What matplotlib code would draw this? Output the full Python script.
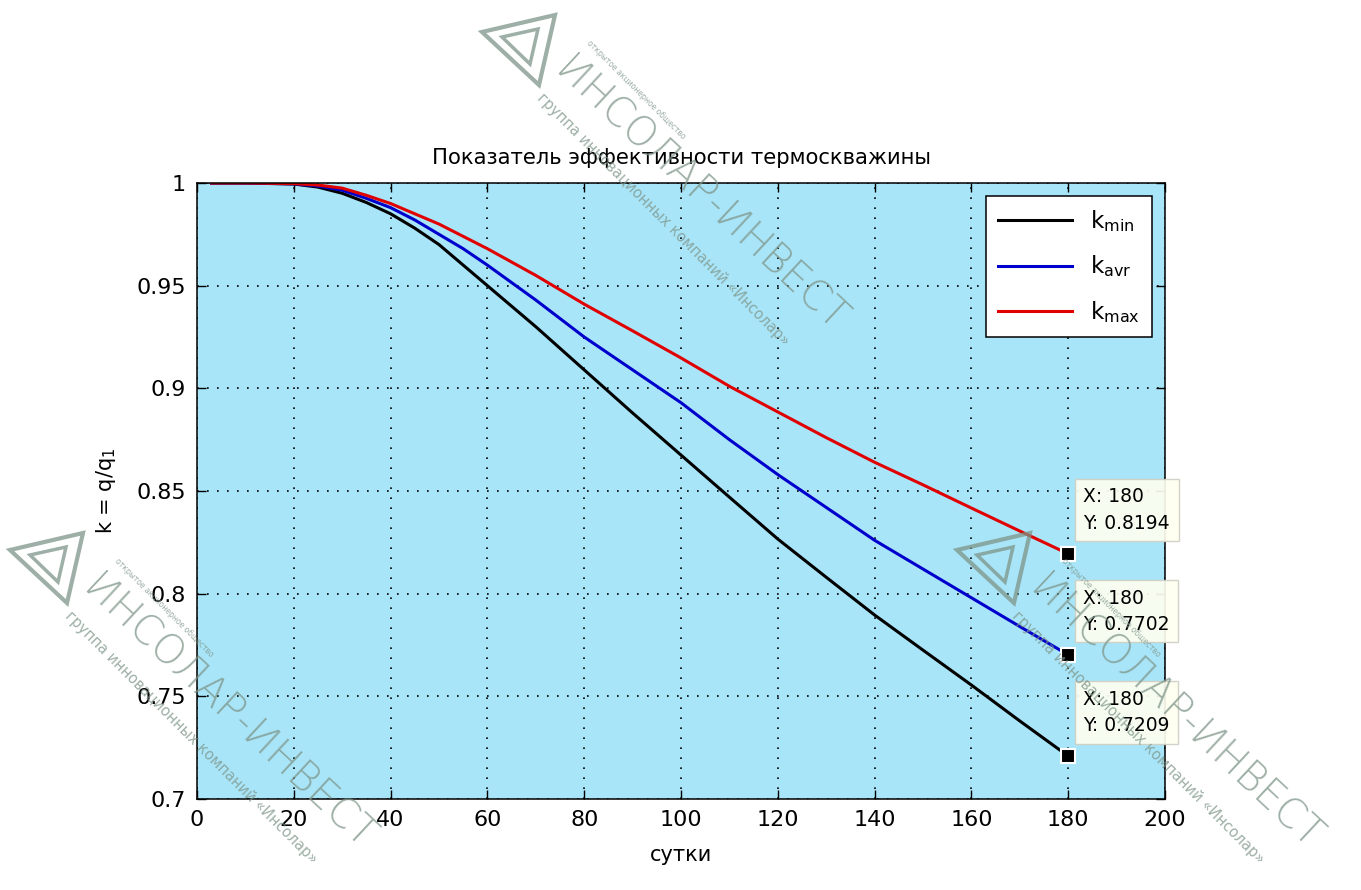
import numpy as np
import matplotlib.pyplot as plt
from matplotlib.patches import Polygon

plt.rcParams['font.family'] = ['DejaVu Sans']
plt.rcParams['mathtext.default'] = 'regular'

# thermal well efficiency over the operating season
days = [3, 10, 20, 25, 30, 35, 40, 45, 50, 55, 60, 70, 80, 90, 100,
        110, 120, 130, 140, 150, 160, 170, 180]
k_min = [1.0, 1.0, 0.9995, 0.998, 0.995, 0.9905, 0.985, 0.978, 0.970, 0.960,
         0.950, 0.930, 0.909, 0.888, 0.8675, 0.847, 0.8266, 0.808, 0.7896,
         0.7725, 0.7555, 0.738, 0.7209]
k_avr = [1.0, 1.0, 0.9996, 0.9985, 0.9965, 0.9925, 0.988, 0.982, 0.975, 0.968,
         0.960, 0.943, 0.925, 0.909, 0.893, 0.875, 0.858, 0.842, 0.826,
         0.812, 0.798, 0.784, 0.7702]
k_max = [1.0, 1.0, 0.9997, 0.999, 0.9975, 0.994, 0.990, 0.985, 0.980, 0.974,
         0.968, 0.955, 0.941, 0.928, 0.9148, 0.901, 0.8885, 0.876, 0.864,
         0.853, 0.8417, 0.8305, 0.8194]

series_labels = ['k$_{min}$', 'k$_{avr}$', 'k$_{max}$']
series_colors = ['black', '#0000cc', '#e00000']
x_ticks = [0, 20, 40, 60, 80, 100, 120, 140, 160, 180, 200]
y_ticks = [0.7, 0.75, 0.8, 0.85, 0.9, 0.95, 1.0]
tip_day = 180

W, H = 1361, 890
fig = plt.figure(figsize=(W / 100, H / 100), dpi=100)
ax = fig.add_axes([197 / W, 1 - 799 / H, 968 / W, 616 / H])
ax.set_facecolor('#a9e5f8')

for vals, lab, col in zip([k_min, k_avr, k_max], series_labels, series_colors):
    ax.plot(days, vals, color=col, lw=2.2, label=lab)

ax.set_xlim(0, 200)
ax.set_ylim(0.7, 1.0)
ax.set_xticks(x_ticks)
ax.set_yticks(y_ticks)
ax.set_xticklabels([str(t) for t in x_ticks])
ax.set_yticklabels(['0.7', '0.75', '0.8', '0.85', '0.9', '0.95', '1'])
ax.tick_params(direction='in', length=6.5, width=1, top=True, right=True,
               labelsize=16, pad=8)
ax.grid(True, color='black', linestyle=(0, (1, 5)), linewidth=1.2)
for sp in ax.spines.values():
    sp.set_linewidth(1.1)

ax.set_title('Показатель эффективности термоскважины', fontsize=15.2, pad=14)
ax.set_xlabel('сутки', fontsize=15, labelpad=11)
ax.set_ylabel('k = q/q$_1$', fontsize=15, labelpad=13)

leg = ax.legend(loc='upper right', fontsize=16.5, handlelength=3.2,
                borderaxespad=0.55, labelspacing=0.85, fancybox=False,
                framealpha=1, edgecolor='black', borderpad=0.55)
leg.get_frame().set_linewidth(1.1)

# data tips at the end of the season
for vals in [k_max, k_avr, k_min]:
    yv = vals[days.index(tip_day)]
    ax.plot([tip_day], [yv], 's', color='black', ms=10.5, mec='white',
            mew=1.5, zorder=5, clip_on=False)
    ax.annotate(f'X: {tip_day}\nY: {yv:.4f}', xy=(tip_day, yv),
                xytext=(11, 15), textcoords='offset points',
                ha='left', va='bottom', fontsize=13.5, linespacing=1.5,
                bbox=dict(boxstyle='square,pad=0.45', fc='#fffff0',
                          ec='#cfcfc4', lw=1, alpha=0.92),
                annotation_clip=False, zorder=6)


def px(x, y):
    return x / W, 1 - y / H


def watermark(x0, y0):
    # company logo with a rotated caption
    wm = '#7d9488'
    tri = [px(x0 - 8, y0 + 20), px(x0 + 65, y0 + 3), px(x0 + 49, y0 + 73)]
    fig.add_artist(Polygon(tri, closed=True, fill=False, ec=wm, lw=3,
                           alpha=0.75, transform=fig.transFigure, zorder=20))
    inner = [px(x0 + 12, y0 + 25), px(x0 + 48, y0 + 17), px(x0 + 40, y0 + 52)]
    fig.add_artist(Polygon(inner, closed=True, fill=False, ec=wm, lw=2.5,
                           alpha=0.75, transform=fig.transFigure, zorder=20))
    fig.text(*px(x0 + 62, y0 + 62), 'ИНСОЛАР-ИНВЕСТ', fontsize=29,
             color=wm, alpha=0.75, rotation=-43, rotation_mode='anchor',
             ha='left', va='baseline', fontweight='light', zorder=20,
             family=['DejaVu Sans'])
    fig.text(*px(x0 + 55, y0 + 78), 'группа инновационных компаний «Инсолар»',
             fontsize=10.5, color=wm, alpha=0.75, rotation=-45,
             rotation_mode='anchor', ha='left', va='top', zorder=20)
    fig.text(*px(x0 + 95, y0 + 33), 'открытое акционерное общество',
             fontsize=5.5, color=wm, alpha=0.75, rotation=-45,
             rotation_mode='anchor', ha='left', va='bottom', zorder=20)


watermark(490, 12)
watermark(18, 530)
watermark(965, 530)

fig.savefig('out.png', dpi=100, facecolor='white')
